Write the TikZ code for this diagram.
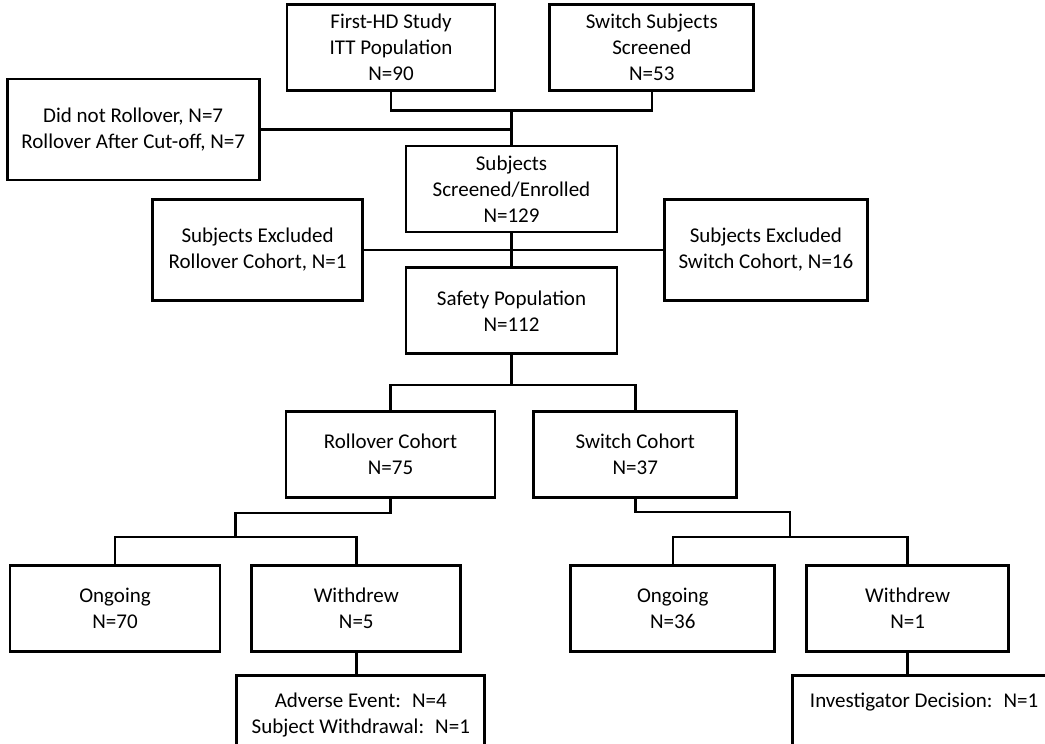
\documentclass[tikz,border=0pt]{standalone}
\usepackage{fontspec}
\setmainfont{Carlito}
\usetikzlibrary{positioning,calc}

\begin{document}
\begin{tikzpicture}[
  node distance=16.5pt and 18pt,
  box/.style={draw, line width=1.4pt, align=center,
              font=\fontsize{10.5}{13}\selectfont,
              minimum width=#1, minimum height=43pt, inner sep=2pt},
  box/.default=104pt,
  tallbox/.style={box=#1, minimum height=50.5pt},
  tailbox/.style={box=#1, text height=14pt, text depth=40pt},
  link/.style={line width=1.2pt}]
\useasboundingbox (0,0) rectangle (522.5pt,-372pt);
% main column
\node[box=105.5pt] (enrol) at (255.75pt,-94.5pt) {Subjects\\Screened/Enrolled\\N=129};
\node[box=105.5pt, below=of enrol] (safety) {Safety Population\\N=112};
\node[box=104pt, above=26.5pt of enrol, xshift=-60.25pt] (hdstudy) {First-HD Study\\ITT Population\\N=90};
\node[box=102pt, right=26pt of hdstudy] (switchscr) {Switch Subjects\\Screened\\N=53};
\node[tallbox=126pt, left=72pt of enrol, yshift=29.75pt] (notroll) {Did not Rollover, N=7\\Rollover After Cut-off, N=7};
\coordinate (mid1) at ($(enrol.south)!.5!(safety.north)$);
\node[tallbox=105pt, left=73.75pt of mid1] (exclroll) {Subjects Excluded\\Rollover Cohort, N=1};
\node[tallbox=101.5pt, right=75.75pt of mid1] (exclswitch) {Subjects Excluded\\Switch Cohort, N=16};
% cohorts
\node[box=104.5pt, below=27.5pt of safety, xshift=-60.5pt] (rollc) {Rollover Cohort\\N=75};
\node[box=101.5pt, right=of rollc] (switchc) {Switch Cohort\\N=37};
\node[box=105pt, below=32.5pt of rollc, xshift=-137.75pt] (ong70) {Ongoing\\N=70};
\node[box=104.5pt, right=14.5pt of ong70] (wd5) {Withdrew\\N=5};
\node[box=102pt, below=32.5pt of switchc, xshift=18.75pt] (ong36) {Ongoing\\N=36};
\node[box=101pt, right=14.5pt of ong36] (wd1) {Withdrew\\N=1};
\node[tailbox=124pt, text height=27pt, below=10.5pt of wd5, xshift=2.25pt] (adverse) {Adverse Event:~ N=4\\Subject Withdrawal:~ N=1};
\node[tailbox=131.5pt, below=10.5pt of wd1, xshift=8.25pt] (invest) {Investigator Decision:~ N=1};
% connectors
\draw[link] (hdstudy.south) -- ++(0,-9.5pt) -| (switchscr.south);
\draw[link] (enrol.north) -- ++(0,17pt);
\draw[link] (notroll.east) -- (notroll.east -| enrol.north);
\draw[link] (enrol.south) -- (safety.north);
\draw[link] (exclroll.east) -- (exclswitch.west);
\draw[link] (safety.south) -- ++(0,-15pt);
\draw[link] (rollc.north) |- ([yshift=-15pt]safety.south) -| (switchc.north);
\coordinate (rbar) at ($(ong70.north)!.5!(wd5.north)+(0,13.5pt)$);
\coordinate (sbar) at ($(ong36.north)!.5!(wd1.north)+(0,13.5pt)$);
\draw[link] (rollc.south) -- ++(0,-7pt) -| (rbar);
\draw[link] (ong70.north) |- (rbar) -| (wd5.north);
\draw[link] (switchc.south) -- ++(0,-6.5pt) -| (sbar);
\draw[link] (ong36.north) |- (sbar) -| (wd1.north);
\draw[link] (wd5.south) -- (wd5.south |- adverse.north);
\draw[link] (wd1.south) -- (wd1.south |- invest.north);
\end{tikzpicture}
\end{document}
